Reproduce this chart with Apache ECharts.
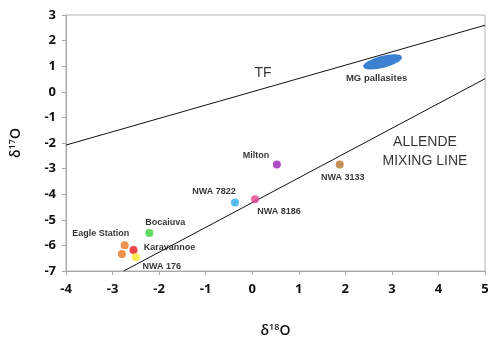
<!DOCTYPE html>
<html>
<head>
<meta charset="utf-8">
<script src="https://cdn.jsdelivr.net/npm/echarts@6/dist/echarts.min.js"></script>
<style>
  html, body { margin: 0; padding: 0; background: #fff; }
  #chart { width: 500px; height: 343px; }
</style>
</head>
<body>
<div id="chart"></div>
<script>
// Oxygen isotope samples: [d18O, d17O]
const sampleNames = ['Milton', 'NWA 3133', 'NWA 7822', 'NWA 8186', 'Bocaiuva', 'Eagle Station', 'Eagle Station', 'Karavannoe', 'NWA 176'];
const sampleD18O = [0.53, 1.88, -0.37, 0.06, -2.21, -2.74, -2.80, -2.55, -2.50];
const sampleD17O = [-2.84, -2.84, -4.32, -4.20, -5.52, -5.99, -6.34, -6.18, -6.46];
const sampleColors = ['#9a22b8', '#b7742c', '#2aace6', '#e6428c', '#38d03a', '#e8771f', '#e8771f', '#e8161c', '#fde82a'];
const showLabel = [true, true, true, true, true, true, false, true, true];
const labelOffsets = [[-21, -9], [3, 13], [-21, -11], [24, 12], [16, -11], [-24, -12], [0, 0], [36, -2], [26, 9]];

// MG pallasite field (centre)
const pallasiteD18O = 2.80;
const pallasiteD17O = 1.17;

// Reference lines: [d18O, d17O] end points
const tfLine = [[-4, -2.08], [5, 2.60]];
const allendeLine = [[-2.76, -7.0], [5, 0.51]];

const xTicks = { min: -4, max: 5, interval: 1 };
const yTicks = { min: -7, max: 3, interval: 1 };

const labelFont = { fontFamily: 'Liberation Sans', fontWeight: 'bold', fontSize: 9, color: '#000' };
const axisFont = { fontFamily: 'Open Sans', fontWeight: 700, color: '#111' };

const sampleData = sampleNames.map((n, i) => ({
  value: [sampleD18O[i], sampleD17O[i]],
  itemStyle: { color: sampleColors[i] },
  label: {
    show: showLabel[i],
    formatter: n,
    position: 'inside',
    offset: labelOffsets[i],
    ...labelFont
  }
}));

const chart = echarts.init(document.getElementById('chart'), null, { renderer: 'canvas' });
chart.setOption({
  backgroundColor: '#fff',
  animation: false,
  grid: {
    left: 64, right: 15, top: 15, bottom: 71,
    show: true, borderColor: '#b4b4b4', borderWidth: 1, backgroundColor: 'transparent'
  },
  xAxis: {
    type: 'value',
    min: xTicks.min, max: xTicks.max, interval: xTicks.interval,
    splitLine: { show: false },
    axisLine: { show: true, onZero: false, lineStyle: { color: '#a8a8a8' } },
    axisTick: { show: true, length: 4, lineStyle: { color: '#a8a8a8' } },
    axisLabel: { margin: 12, fontSize: 13, ...axisFont },
    name: '{d|δ}{s|18}{d|O}',
    nameLocation: 'middle',
    nameGap: 52,
    nameTextStyle: {
      rich: {
        d: { fontSize: 14, ...axisFont, fontWeight: 600 },
        s: { fontSize: 9, ...axisFont, fontWeight: 600, verticalAlign: 'top', padding: [0, 0, 7, 0] }
      }
    }
  },
  yAxis: {
    type: 'value',
    min: yTicks.min, max: yTicks.max, interval: yTicks.interval,
    splitLine: { show: false },
    axisLine: { show: true, onZero: false, lineStyle: { color: '#a8a8a8' } },
    axisTick: { show: true, length: 4, lineStyle: { color: '#a8a8a8' } },
    axisLabel: { margin: 10, fontSize: 13, ...axisFont },
    name: '{d|δ}{s|17}{d|O}',
    nameLocation: 'middle',
    nameGap: 42,
    nameTextStyle: {
      rich: {
        d: { fontSize: 14, ...axisFont, fontWeight: 600 },
        s: { fontSize: 9, ...axisFont, fontWeight: 600, verticalAlign: 'top', padding: [0, 0, 7, 0] }
      }
    }
  },
  series: [
    {
      type: 'line', data: tfLine, symbol: 'none', silent: true,
      lineStyle: { color: '#111', width: 1 }
    },
    {
      type: 'line', data: allendeLine, symbol: 'none', silent: true,
      lineStyle: { color: '#111', width: 1 }
    },
    {
      type: 'scatter',
      data: [{
        value: [pallasiteD18O, pallasiteD17O],
        label: { show: true, formatter: 'MG pallasites', position: 'inside', offset: [-6, 17], ...labelFont, fontSize: 9.5 }
      }],
      symbol: 'circle', symbolSize: [40, 12], symbolRotate: 14,
      itemStyle: { color: '#0b62c6' }
    },
    {
      type: 'scatter', data: sampleData, symbol: 'circle', symbolSize: 8,
      z: 5
    },
    {
      type: 'scatter', symbolSize: 0, silent: true,
      data: [
        { value: [0.23, 0.74], label: { show: true, formatter: 'TF', position: 'inside', fontFamily: 'Liberation Sans', fontSize: 14, color: '#000' } },
        { value: [3.71, -2.33], label: { show: true, formatter: 'ALLENDE\nMIXING LINE', position: 'inside', fontFamily: 'Liberation Sans', fontSize: 14, lineHeight: 19, align: 'center', color: '#000' } }
      ]
    }
  ]
});
</script>
</body>
</html>
